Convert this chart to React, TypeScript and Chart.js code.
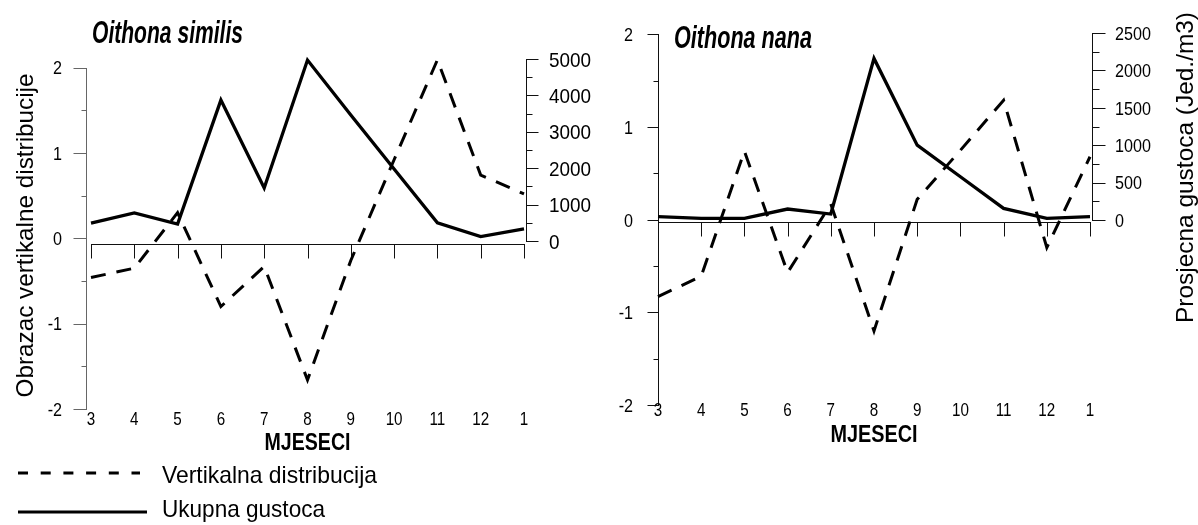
import React, { useEffect, useRef } from 'react';
import { Chart, registerables } from 'chart.js';

Chart.register(...registerables);

// ---------------- data ----------------
const months = ['3', '4', '5', '6', '7', '8', '9', '10', '11', '12', '1'];

const similisVertical = [-0.46, -0.35, 0.3, -0.8, -0.33, -1.66, -0.26, 0.92, 2.09, 0.74, 0.52];
const similisDensity = [490, 770, 465, 3870, 1455, 4970, 3460, 1980, 500, 120, 330];

const nanaVertical = [-0.83, -0.61, 0.74, -0.57, 0.17, -1.2, 0.22, 0.75, 1.29, -0.3, 0.68];
const nanaDensity = [45, 22, 22, 147, 80, 2160, 1000, 578, 155, 22, 45];

const verticalMajorTicks = [-2, -1, 0, 1, 2];
const similisDensityTicks = [0, 1000, 2000, 3000, 4000, 5000];
const nanaDensityTicks = [0, 500, 1000, 1500, 2000, 2500];

const verticalLabel = 'Vertikalna distribucija';
const densityLabel = 'Ukupna gustoca';
const xTitle = 'MJESECI';
const leftAxisTitle = 'Obrazac vertikalne distribucije';
const rightAxisTitle = 'Prosjecna gustoca (Jed./m3)';
const similisTitle = 'Oithona similis';
const nanaTitle = 'Oithona nana';

// ---------------- helpers ----------------
const FONT = '"Liberation Sans", Arial, Helvetica, sans-serif';

type TextOpts = {
  size: number;
  bold?: boolean;
  italic?: boolean;
  align?: CanvasTextAlign;
  sx?: number;
  width?: number;
  rotate?: number;
};

function drawText(ctx: CanvasRenderingContext2D, s: string, x: number, y: number, o: TextOpts) {
  ctx.save();
  ctx.font = `${o.italic ? 'italic ' : ''}${o.bold ? 'bold ' : ''}${o.size}px ${FONT}`;
  let sx = o.sx ?? 1;
  if (o.width) sx = o.width / ctx.measureText(s).width;
  ctx.translate(x, y);
  if (o.rotate) ctx.rotate(o.rotate);
  ctx.scale(sx, 1);
  ctx.textAlign = o.align ?? 'left';
  ctx.textBaseline = 'alphabetic';
  ctx.fillStyle = '#000';
  ctx.fillText(s, 0, 0);
  ctx.restore();
}

function seg(ctx: CanvasRenderingContext2D, x1: number, y1: number, x2: number, y2: number) {
  ctx.beginPath();
  ctx.moveTo(x1, y1);
  ctx.lineTo(x2, y2);
  ctx.stroke();
}

const crisp = (v: number) => Math.round(v) + 0.5;

function withMinors(major: number[]) {
  const out: { v: number; major: boolean }[] = [];
  major.forEach((v, i) => {
    out.push({ v, major: true });
    if (i < major.length - 1) out.push({ v: (v + major[i + 1]) / 2, major: false });
  });
  return out;
}

type PanelCfg = {
  canvasLeft: number;
  canvasWidth: number;
  padding: { left: number; right: number; top: number; bottom: number };
  yMin: number;
  yMax: number;
  y2Min: number;
  y2Max: number;
  vertical: number[];
  density: number[];
  densityTicks: number[];
  title: string;
  titleX: number;
  titleBaseline: number;
  titleWidth: number;
  leftAxisDx: number;
  leftAxisColor: string;
  leftMajorLen: number;
  leftMinorLen: number;
  leftLabelX: number;
  leftLabelSize: number;
  leftLabelSx: number;
  rightAxisDx: number;
  rightMajorLen: number;
  rightMinorLen: number;
  rightLabelX: number;
  rightLabelSize: number;
  rightLabelSx: number;
  xAxisDy: number;
  xTickLen: number;
  monthLabelDy: number;
  xTitleDy: number;
  xTitleWidth: number;
  rotTitle: { text: string; x: number; cy: number; len: number };
  legend: boolean;
};

function makePlugin(cfg: PanelCfg) {
  return {
    id: 'panelDecor',
    beforeDatasetsDraw(chart: any) {
      const ctx: CanvasRenderingContext2D = chart.ctx;
      const ca = chart.chartArea;
      const xs = chart.scales.x;
      const yl = chart.scales.y;
      const yr = chart.scales.y2;
      ctx.save();
      ctx.lineWidth = 1;
      ctx.lineCap = 'butt';

      // ---- left (vertical distribution) axis ----
      const lx = crisp(ca.left + cfg.leftAxisDx);
      ctx.strokeStyle = cfg.leftAxisColor;
      const vMax = Math.max(...verticalMajorTicks);
      const vMin = Math.min(...verticalMajorTicks);
      seg(ctx, lx, Math.round(yl.getPixelForValue(vMax)), lx, Math.round(yl.getPixelForValue(vMin)) + 1);
      withMinors(verticalMajorTicks).forEach((t) => {
        const y = crisp(yl.getPixelForValue(t.v));
        seg(ctx, lx - (t.major ? cfg.leftMajorLen : cfg.leftMinorLen), y, lx, y);
      });
      const capL = 0.716 * cfg.leftLabelSize;
      verticalMajorTicks.forEach((v) => {
        drawText(ctx, String(v), cfg.leftLabelX, yl.getPixelForValue(v) + capL / 2, {
          size: cfg.leftLabelSize,
          align: 'right',
          sx: cfg.leftLabelSx,
        });
      });

      // ---- right (density) axis ----
      ctx.strokeStyle = '#111';
      const rx = crisp(ca.right + cfg.rightAxisDx);
      const dMax = Math.max(...cfg.densityTicks);
      seg(ctx, rx, Math.round(yr.getPixelForValue(dMax)), rx, Math.round(yr.getPixelForValue(0)) + 1);
      withMinors(cfg.densityTicks).forEach((t) => {
        const y = crisp(yr.getPixelForValue(t.v));
        seg(ctx, rx, y, rx + (t.major ? cfg.rightMajorLen : cfg.rightMinorLen), y);
      });
      const capR = 0.716 * cfg.rightLabelSize;
      cfg.densityTicks.forEach((v) => {
        drawText(ctx, String(v), cfg.rightLabelX, yr.getPixelForValue(v) + capR / 2, {
          size: cfg.rightLabelSize,
          align: 'left',
          sx: cfg.rightLabelSx,
        });
      });

      // ---- x axis (months) ----
      ctx.strokeStyle = '#111';
      const xy = crisp(yl.getPixelForValue(0) + cfg.xAxisDy);
      const x0 = xs.getPixelForValue(0);
      const x1 = xs.getPixelForValue(months.length - 1);
      seg(ctx, Math.round(x0), xy, Math.round(x1) + 1, xy);
      const cap = 0.716 * 19;
      months.forEach((m, i) => {
        const px = crisp(xs.getPixelForValue(i));
        seg(ctx, px, xy, px, xy + cfg.xTickLen);
        drawText(ctx, m, xs.getPixelForValue(i), ca.bottom + cfg.monthLabelDy + cap / 2, {
          size: 19,
          align: 'center',
          sx: 0.8,
        });
      });
      drawText(ctx, xTitle, (x0 + x1) / 2, ca.bottom + cfg.xTitleDy, {
        size: 24,
        bold: true,
        align: 'center',
        width: cfg.xTitleWidth,
      });

      // ---- titles ----
      drawText(ctx, cfg.title, cfg.titleX, cfg.titleBaseline, {
        size: 31,
        bold: true,
        italic: true,
        align: 'left',
        width: cfg.titleWidth,
      });
      const rt = cfg.rotTitle;
      drawText(ctx, rt.text, rt.x, rt.cy, {
        size: 24,
        align: 'center',
        rotate: -Math.PI / 2,
        width: rt.len,
      });

      // ---- legend ----
      if (cfg.legend) {
        const rows = [
          { ds: chart.data.datasets[0], lineY: 473, textY: 483, width: 215, x2: 140, dash: [10, 12.7] },
          { ds: chart.data.datasets[1], lineY: 512, textY: 517, width: 163, x2: 147, dash: [] as number[] },
        ];
        rows.forEach((r) => {
          ctx.save();
          ctx.strokeStyle = r.ds.borderColor;
          ctx.lineWidth = 3.2;
          ctx.setLineDash(r.dash);
          seg(ctx, 18, r.lineY, r.x2, r.lineY);
          ctx.restore();
          drawText(ctx, r.ds.label, 162, r.textY, { size: 24, align: 'left', width: r.width });
        });
      }
      ctx.restore();
    },
  };
}

const leftCfg: PanelCfg = {
  canvasLeft: 0,
  canvasWidth: 600,
  padding: { left: 91, right: 76, top: 59, bottom: 116 },
  yMin: -2,
  yMax: 2.1,
  y2Min: -4615,
  y2Max: 5000,
  vertical: similisVertical,
  density: similisDensity,
  densityTicks: similisDensityTicks,
  title: similisTitle,
  titleX: 92,
  titleBaseline: 43,
  titleWidth: 151,
  leftAxisDx: -5,
  leftAxisColor: '#666',
  leftMajorLen: 13,
  leftMinorLen: 5,
  leftLabelX: 62,
  leftLabelSize: 19,
  leftLabelSx: 0.85,
  rightAxisDx: 2,
  rightMajorLen: 12,
  rightMinorLen: 6,
  rightLabelX: 549,
  rightLabelSize: 21,
  rightLabelSx: 0.9,
  xAxisDy: 6,
  xTickLen: 14,
  monthLabelDy: 9,
  xTitleDy: 41,
  xTitleWidth: 86,
  rotTitle: { text: leftAxisTitle, x: 33, cy: 235.5, len: 324 },
  legend: true,
};

const rightCfg: PanelCfg = {
  canvasLeft: 600,
  canvasWidth: 598,
  padding: { left: 58, right: 108, top: 33, bottom: 120 },
  yMin: -2,
  yMax: 2.016,
  y2Min: -2473,
  y2Max: 2500,
  vertical: nanaVertical,
  density: nanaDensity,
  densityTicks: nanaDensityTicks,
  title: nanaTitle,
  titleX: 74,
  titleBaseline: 48,
  titleWidth: 138,
  leftAxisDx: 0,
  leftAxisColor: '#111',
  leftMajorLen: 11,
  leftMinorLen: 5,
  leftLabelX: 33,
  leftLabelSize: 19,
  leftLabelSx: 0.85,
  rightAxisDx: 2,
  rightMajorLen: 13,
  rightMinorLen: 7,
  rightLabelX: 515,
  rightLabelSize: 19,
  rightLabelSx: 0.85,
  xAxisDy: 2,
  xTickLen: 14,
  monthLabelDy: 4,
  xTitleDy: 37,
  xTitleWidth: 87,
  rotTitle: { text: rightAxisTitle, x: 593, cy: 167.5, len: 311 },
  legend: false,
};

function Panel({ cfg }: { cfg: PanelCfg }) {
  const ref = useRef<HTMLCanvasElement>(null);
  useEffect(() => {
    const canvas = ref.current;
    if (!canvas) return;
    const chart = new Chart(canvas, {
      type: 'line',
      data: {
        labels: months,
        datasets: [
          {
            label: verticalLabel,
            data: cfg.vertical,
            yAxisID: 'y',
            borderColor: '#000',
            borderWidth: 3,
            borderDash: [15, 11],
            borderJoinStyle: 'miter',
            borderCapStyle: 'butt',
            pointRadius: 0,
            tension: 0,
            fill: false,
            clip: false,
          } as any,
          {
            label: densityLabel,
            data: cfg.density,
            yAxisID: 'y2',
            borderColor: '#000',
            borderWidth: 3.3,
            borderJoinStyle: 'miter',
            borderCapStyle: 'butt',
            pointRadius: 0,
            tension: 0,
            fill: false,
            clip: false,
          } as any,
        ],
      },
      options: {
        responsive: false,
        animation: false,
        devicePixelRatio: 1,
        events: [],
        layout: { padding: cfg.padding },
        plugins: { legend: { display: false }, tooltip: { enabled: false }, title: { display: false } },
        scales: {
          x: { type: 'category', display: false, offset: false },
          y: { type: 'linear', display: false, min: cfg.yMin, max: cfg.yMax, position: 'left' },
          y2: { type: 'linear', display: false, min: cfg.y2Min, max: cfg.y2Max, position: 'right' },
        },
      },
      plugins: [makePlugin(cfg)],
    });
    return () => chart.destroy();
  }, [cfg]);
  return (
    <canvas
      ref={ref}
      width={cfg.canvasWidth}
      height={525}
      style={{ position: 'absolute', left: cfg.canvasLeft, top: 0, width: cfg.canvasWidth, height: 525 }}
    />
  );
}

export default function App() {
  return (
    <div style={{ position: 'absolute', left: 0, top: 0, width: 1198, height: 525, background: '#fff' }}>
      <Panel cfg={leftCfg} />
      <Panel cfg={rightCfg} />
    </div>
  );
}
